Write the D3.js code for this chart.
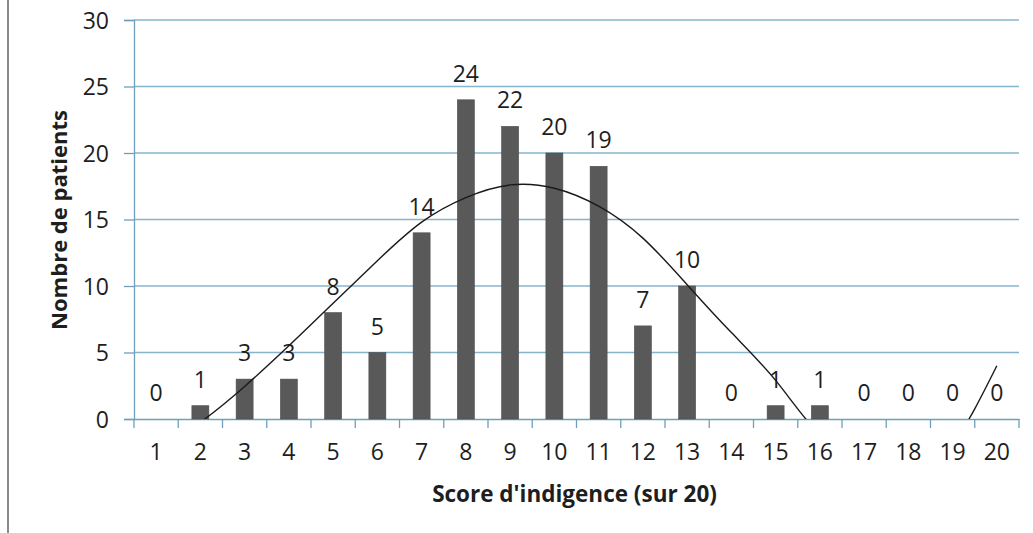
<!DOCTYPE html>
<html><head><meta charset="utf-8">
<script src="https://cdn.jsdelivr.net/npm/d3@7"></script>
<style>
html,body{margin:0;padding:0;background:#fff;}
svg{display:block;font-family:"Open Sans",sans-serif;}
</style></head>
<body><svg id="c" width="1033" height="533"></svg>
<script>
const categories = ["1","2","3","4","5","6","7","8","9","10","11","12","13","14","15","16","17","18","19","20"];
const patients = [0,1,3,3,8,5,14,24,22,20,19,7,10,0,1,1,0,0,0,0];
// trendline values read at each category (parts below 0 are hidden by the axis)
const trend = [-2.5,-0.25,2.45,5.5,8.7,11.9,14.8,16.65,17.6,17.35,16.0,13.6,10.1,6.5,2.9,-1.2,-3.4,-4.2,-1.9,4.0];
const yTicks = [0,5,10,15,20,25,30];

const svg = d3.select("#c");
const L = 134, R = 1019, T = 20, B = 419;
const x = d3.scaleBand().domain(categories).range([L, R]).paddingInner(0.616).paddingOuter(0.308);
const y = d3.scaleLinear().domain([0, 30]).range([B, T]);
const gridColor = "#86b4cc", axisColor = "#6f9fba", textColor = "#1e1e1e";

// left frame line
svg.append("line").attr("x1",8).attr("x2",8).attr("y1",0).attr("y2",533)
  .attr("stroke","#8a8a8a").attr("stroke-width",2);

// gridlines
svg.append("g").selectAll("line").data(yTicks.filter(d=>d>0)).join("line")
  .attr("x1",L).attr("x2",R).attr("y1",d=>y(d)).attr("y2",d=>y(d))
  .attr("stroke",gridColor).attr("stroke-width",1.3);

// y axis
const yAxis = svg.append("g").attr("transform",`translate(${L},0)`)
  .call(d3.axisLeft(y).tickValues(yTicks).tickSize(10).tickPadding(15));
yAxis.select(".domain").attr("stroke",axisColor).attr("stroke-width",1.3);
yAxis.selectAll(".tick line").attr("stroke",axisColor).attr("stroke-width",1.3);
yAxis.selectAll("text").attr("font-size",23).attr("fill",textColor)
  .attr("font-family","Open Sans").attr("dy","0.36em");

// x axis with ticks at category boundaries
const xAxis = svg.append("g").attr("transform",`translate(0,${B})`)
  .call(d3.axisBottom(x).tickSize(0).tickPadding(25).tickSizeOuter(0));
xAxis.select(".domain").attr("stroke",axisColor).attr("stroke-width",1.3);
xAxis.selectAll("text").attr("font-size",23).attr("fill",textColor).attr("font-family","Open Sans");
const step = x.step();
svg.append("g").selectAll("line").data(d3.range(categories.length+1)).join("line")
  .attr("x1",i=>L + i*step).attr("x2",i=>L + i*step)
  .attr("y1",B).attr("y2",B+9)
  .attr("stroke",axisColor).attr("stroke-width",1.3);

// bars
svg.append("g").selectAll("rect").data(patients).join("rect")
  .attr("x",(d,i)=>x(categories[i])).attr("width",x.bandwidth())
  .attr("y",d=>y(d)).attr("height",d=>B-y(d))
  .attr("fill","#595959").attr("stroke","#4a4f52").attr("stroke-width",0.6);

// value labels
svg.append("g").selectAll("text").data(patients).join("text")
  .attr("x",(d,i)=>x(categories[i])+x.bandwidth()/2)
  .attr("y",d=>y(d)-18)
  .attr("text-anchor","middle").attr("font-size",23).attr("fill",textColor)
  .text(d=>d);

// trendline clipped to the plot area above 0
svg.append("clipPath").attr("id","clip").append("rect")
  .attr("x",L).attr("y",T-5).attr("width",R-L).attr("height",B-T+5);
const line = d3.line()
  .x((d,i)=>x(categories[i])+x.bandwidth()/2)
  .y(d=>y(d))
  .curve(d3.curveNatural);
svg.append("path").datum(trend).attr("d",line)
  .attr("clip-path","url(#clip)")
  .attr("fill","none").attr("stroke","#1a1a1a").attr("stroke-width",1.4);

// axis titles
svg.append("text").attr("x",(L+R)/2 - 2).attr("y",502)
  .attr("text-anchor","middle").attr("font-size",22.5).attr("font-weight","bold")
  .attr("fill",textColor).text("Score d'indigence (sur 20)");
svg.append("text").attr("transform","translate(67,220) rotate(-90)")
  .attr("text-anchor","middle").attr("font-size",22).attr("font-weight","bold")
  .attr("fill",textColor).text("Nombre de patients");
</script></body></html>
